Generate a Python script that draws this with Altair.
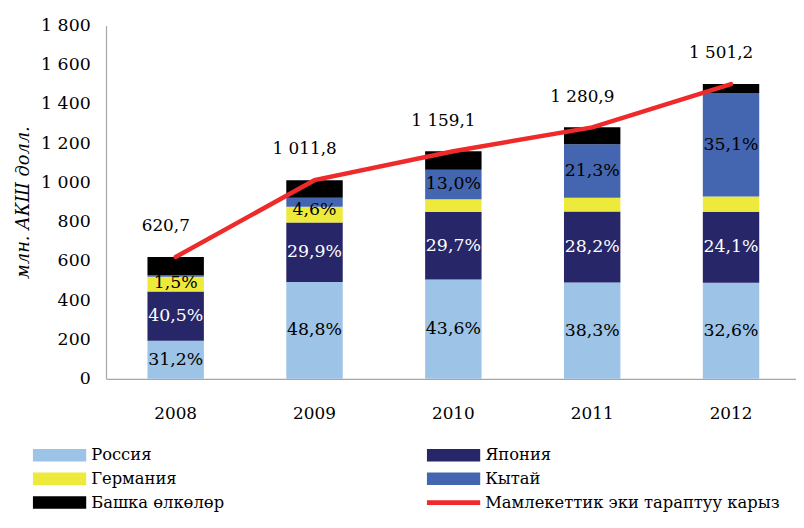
import altair as alt
import pandas as pd

years = ["2008", "2009", "2010", "2011", "2012"]
series = ["Россия", "Япония", "Германия", "Кытай", "Башка өлкөлөр"]
line_name = "Мамлекеттик эки тараптуу карыз"

# segment heights, млн. АКШ долл.
russia = [193.7, 493.8, 505.4, 490.6, 489.4]
japan = [251.4, 302.5, 344.2, 361.2, 361.8]
germany = [75.0, 80.0, 65.0, 70.0, 78.0]
china = [9.3, 46.5, 150.7, 272.8, 526.9]
other = [91.3, 89.0, 93.8, 86.3, 45.1]
totals = [620.7, 1011.8, 1159.1, 1280.9, 1501.2]

# shares printed on the bars, %
russia_pct = [31.2, 48.8, 43.6, 38.3, 32.6]
japan_pct = [40.5, 29.9, 29.7, 28.2, 24.1]
china_pct = [1.5, 4.6, 13.0, 21.3, 35.1]

series_colors = {
    "Россия": "#9DC3E6", "Япония": "#262668", "Германия": "#EEEA3C",
    "Кытай": "#4466B0", "Башка өлкөлөр": "#000000", line_name: "#EE2A2A",
}
# legend order (filled column by column)
legend_order = ["Россия", "Германия", "Башка өлкөлөр", "Япония", "Кытай", line_name]
FONT = "DejaVu Serif"

values = [russia, japan, germany, china, other]
rows = []
for i, y in enumerate(years):
    for k, s in enumerate(series):
        rows.append({"year": y, "series": s, "idx": k, "value": values[k][i]})
bars_df = pd.DataFrame(rows)

lab_rows = []
for i, y in enumerate(years):
    r1 = russia[i]
    j1 = r1 + japan[i]
    g1 = j1 + germany[i]
    c1 = g1 + china[i]
    lab_rows.append({"year": y, "mid": r1 / 2, "pct": russia_pct[i], "lc": "black"})
    lab_rows.append({"year": y, "mid": (r1 + j1) / 2, "pct": japan_pct[i], "lc": "white"})
    # small China slices: label sits over the Germany/China block
    cmid = (g1 + c1) / 2 if china[i] > 60 else (j1 + c1) / 2
    lab_rows.append({"year": y, "mid": cmid, "pct": china_pct[i], "lc": "black"})
lab_df = pd.DataFrame(lab_rows)

tot_df = pd.DataFrame({"year": years, "total": totals})

x_axis = alt.Axis(title=None, labelAngle=0, ticks=False, tickSize=0, labelPadding=27,
                  labelFont=FONT, labelFontSize=17, labelColor="black",
                  domainColor="#A6A6A6", domainWidth=1.2)
x_scale = alt.Scale(paddingInner=0.5936, paddingOuter=0.2817, align=0.53)

y_axis = alt.Axis(
    values=list(range(0, 1801, 200)), grid=False, ticks=False, tickSize=0,
    labelOverlap=False, labelFlush=False,
    labelPadding=16, labelFont=FONT, labelFontSize=17.5, labelColor="black",
    labelExpr="replace(format(datum.value, ','), ',', ' ')",
    title="млн. АКШ долл.", titleFont=FONT, titleFontSize=18, titleFontStyle="italic",
    titleFontWeight="normal", titleColor="black", titlePadding=8,
    domainColor="#A6A6A6", domainWidth=1.2,
)
y_scale = alt.Scale(domain=[0, 1800], nice=False)

legend = alt.Legend(
    orient="none", legendX=-74, legendY=427, columns=2, columnPadding=204,
    rowPadding=7, clipHeight=14, title=None,
    symbolType=alt.ExprRef(
        expr="datum.value == '" + line_name + "' ? 'M-1,-0.09H1V0.09H-1Z' : 'M-1,-0.235H1V0.235H-1Z'"
    ),
    symbolSize=2916, symbolStrokeWidth=0, symbolOffset=0,
    labelFont=FONT, labelFontSize=16.5, labelColor="black", labelOffset=5, labelLimit=0,
)

bars = alt.Chart(bars_df).mark_bar().encode(
    x=alt.X("year:N", scale=x_scale, axis=x_axis),
    y=alt.Y("value:Q", stack="zero", scale=y_scale, axis=y_axis),
    color=alt.Color("series:N",
                    scale=alt.Scale(domain=legend_order,
                                    range=[series_colors[s] for s in legend_order]),
                    legend=legend),
    order=alt.Order("idx:Q", sort="ascending"),
)

pct = alt.Chart(lab_df).transform_calculate(
    txt="replace(format(datum.pct, '.1f'), '.', ',') + '%'"
).mark_text(font=FONT, fontSize=17.5, baseline="middle", align="center").encode(
    x=alt.X("year:N", scale=x_scale, axis=x_axis),
    y=alt.Y("mid:Q", scale=y_scale, axis=y_axis),
    text="txt:N",
    color=alt.Color("lc:N", scale=None),
)

line = alt.Chart(tot_df).mark_line(color="#EE2A2A", strokeWidth=4.5, strokeCap="round").encode(
    x=alt.X("year:N", scale=x_scale, axis=x_axis),
    y=alt.Y("total:Q", scale=y_scale, axis=y_axis),
)

tot_text = alt.Chart(tot_df).transform_calculate(
    txt="replace(replace(format(datum.total, ',.1f'), ',', ' '), '.', ',')"
).mark_text(font=FONT, fontSize=17, baseline="middle", align="center", dx=-10, dy=-31,
            color="black").encode(
    x=alt.X("year:N", scale=x_scale, axis=x_axis),
    y=alt.Y("total:Q", scale=y_scale, axis=y_axis),
    text="txt:N",
)

chart = alt.layer(bars, pct, line, tot_text).properties(
    width=697, height=357,
    autosize=alt.AutoSizeParams(type="none"),
    padding={"left": 99, "top": 15, "right": 0, "bottom": 140},
).configure_view(stroke=None)

chart.save("out.html", embed_options={"renderer": "svg", "actions": False})
